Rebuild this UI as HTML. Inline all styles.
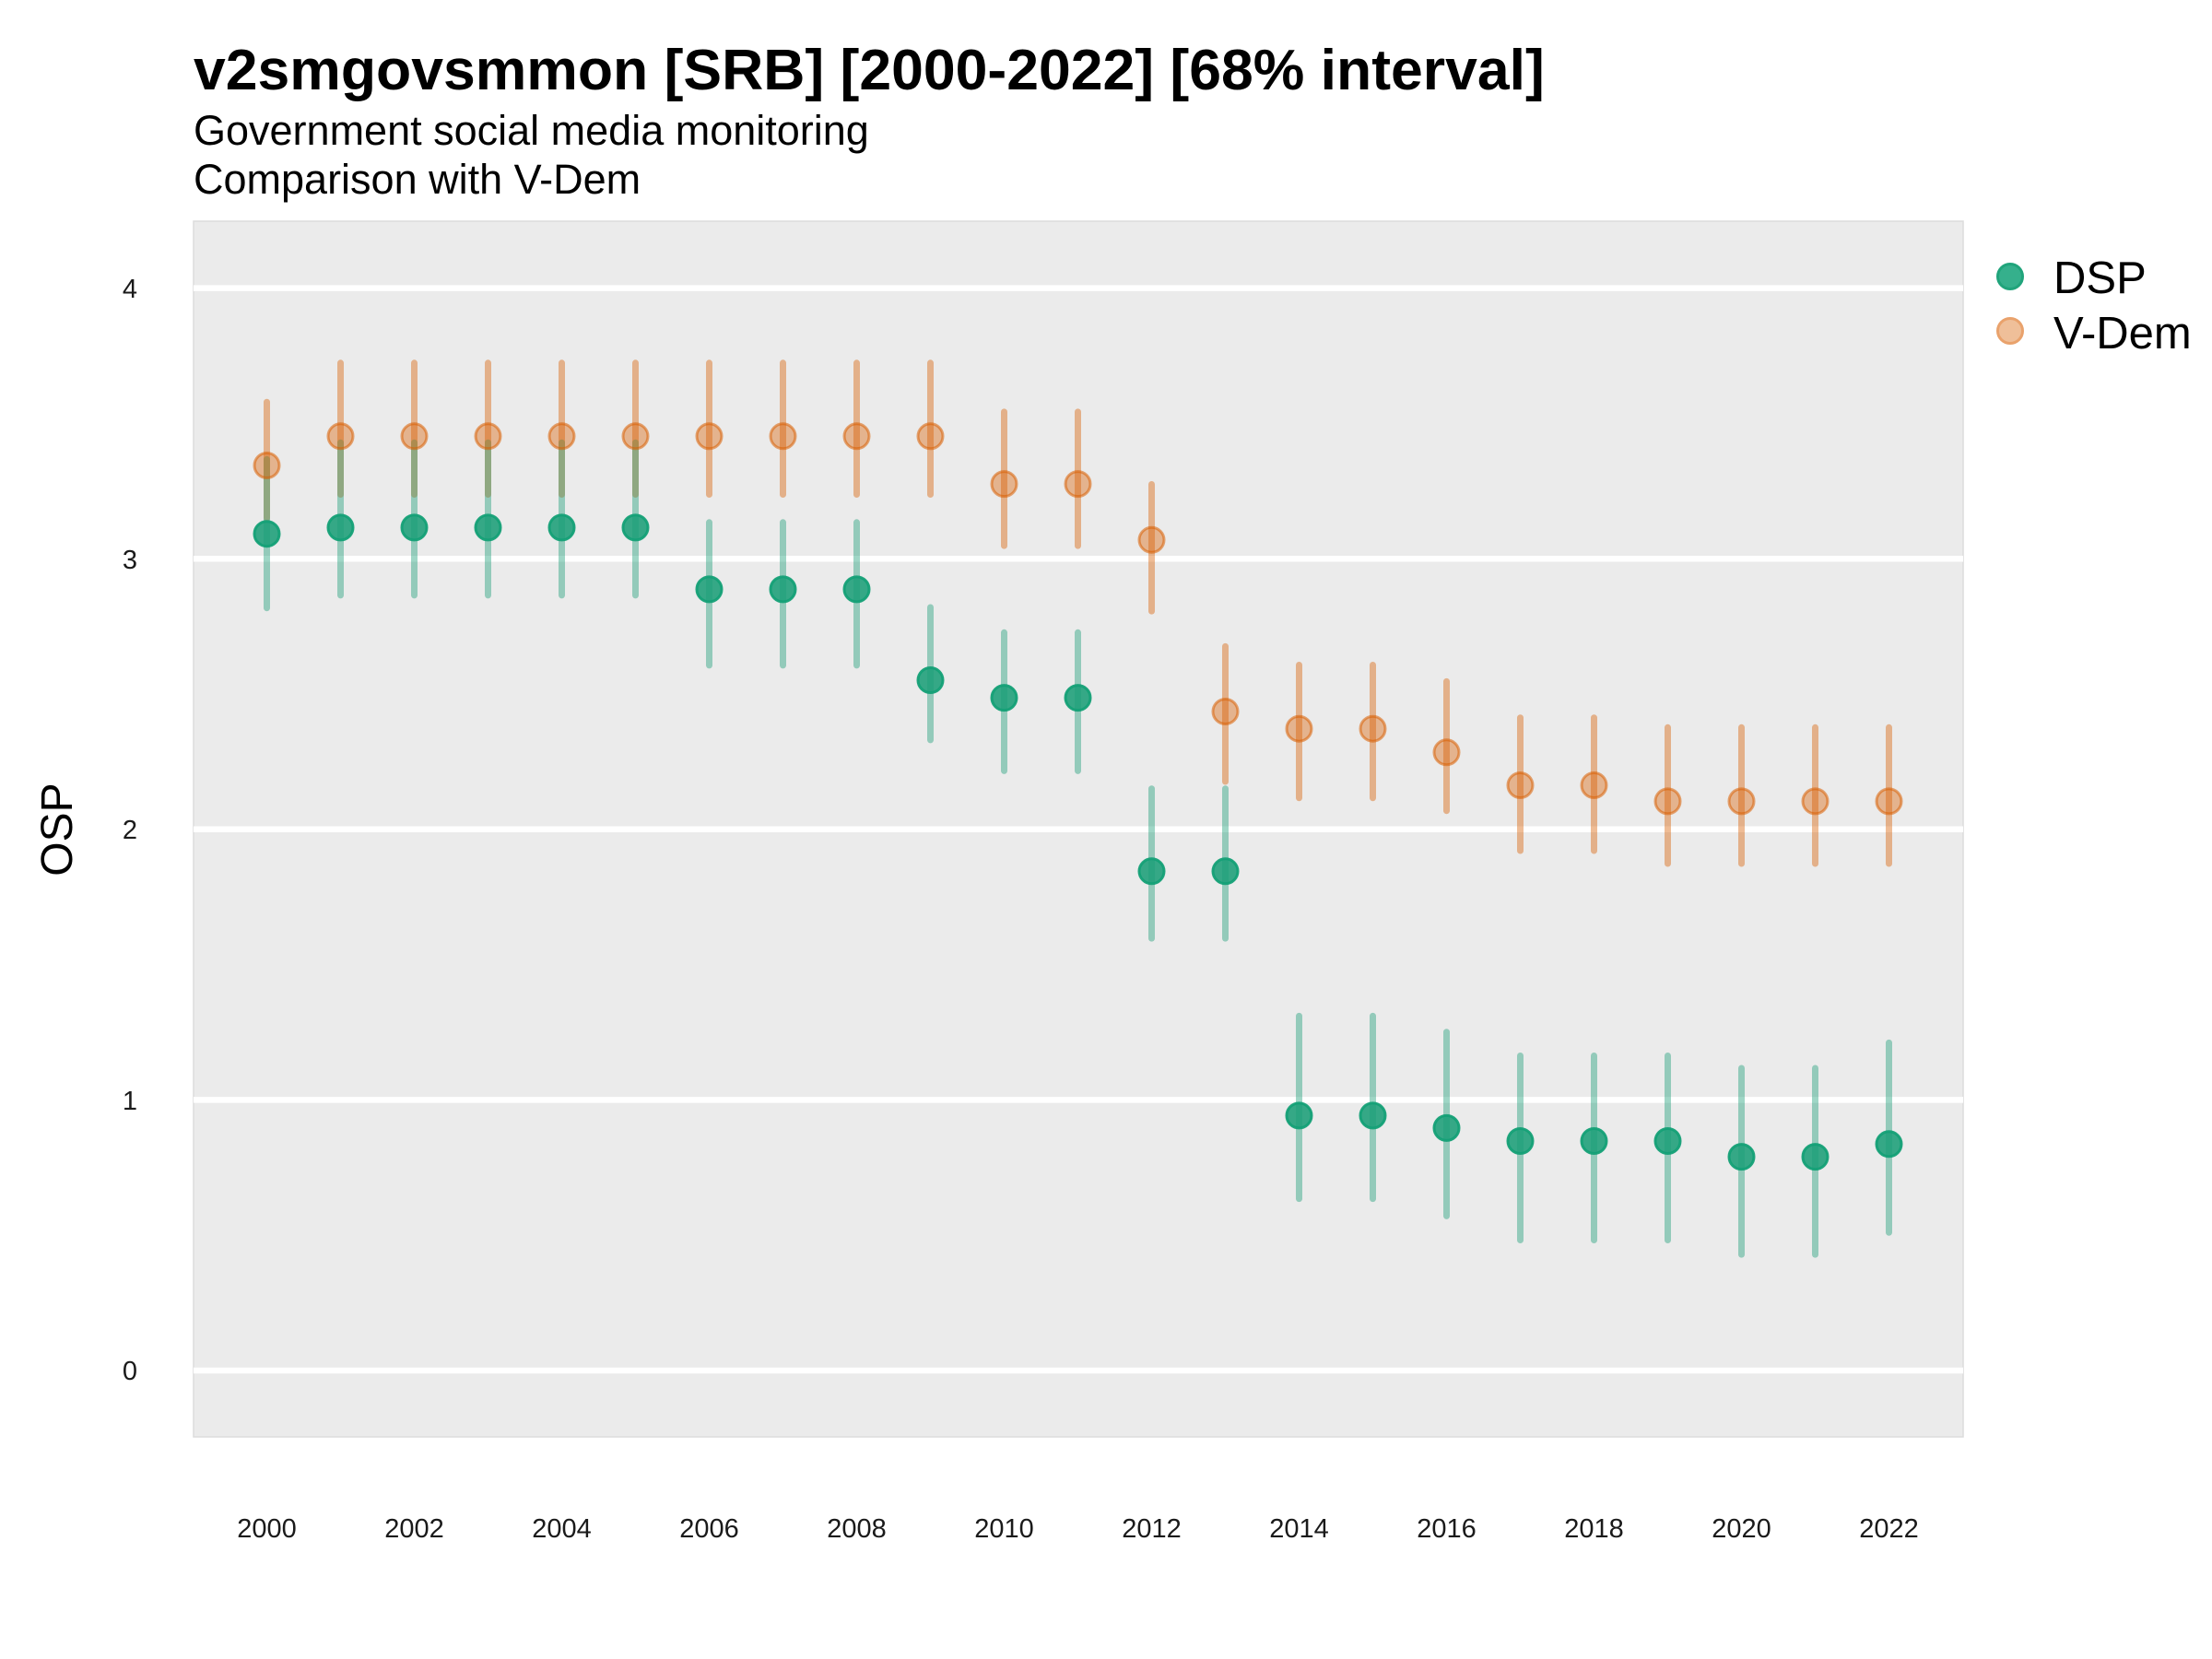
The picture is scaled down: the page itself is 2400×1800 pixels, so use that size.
<!DOCTYPE html>
<html><head><meta charset="utf-8"><style>
html,body{margin:0;padding:0;background:#fff;}
svg{display:block;}
text{font-family:"Liberation Sans",Arial,sans-serif;}
</style></head><body>
<svg width="2400" height="1800" viewBox="0 0 2400 1800" xmlns="http://www.w3.org/2000/svg">
<rect width="2400" height="1800" fill="#fff"/>
<text x="210" y="97" font-size="62.5" font-weight="bold" fill="#000">v2smgovsmmon [SRB] [2000-2022] [68% interval]</text>
<text x="210" y="157" font-size="45" fill="#000">Government social media monitoring</text>
<text x="210" y="210" font-size="45" fill="#000">Comparison with V-Dem</text>
<rect x="210" y="240" width="1920" height="1319" fill="#ebebeb" stroke="#dcdcdc" stroke-width="1.5"/>
<g stroke="#fff" stroke-width="6.5">
<line x1="210" x2="2130" y1="312.6" y2="312.6"/>
<line x1="210" x2="2130" y1="606.2" y2="606.2"/>
<line x1="210" x2="2130" y1="899.8" y2="899.8"/>
<line x1="210" x2="2130" y1="1193.4" y2="1193.4"/>
<line x1="210" x2="2130" y1="1487" y2="1487"/>
</g>
<g font-size="29" fill="#1a1a1a" text-anchor="middle">
<text x="141" y="323">4</text>
<text x="141" y="617">3</text>
<text x="141" y="910">2</text>
<text x="141" y="1204">1</text>
<text x="141" y="1497">0</text>
</g>
<g font-size="29" fill="#1a1a1a" text-anchor="middle">
<text x="289.5" y="1668">2000</text>
<text x="449.5" y="1668">2002</text>
<text x="609.5" y="1668">2004</text>
<text x="769.5" y="1668">2006</text>
<text x="929.5" y="1668">2008</text>
<text x="1089.5" y="1668">2010</text>
<text x="1249.5" y="1668">2012</text>
<text x="1409.5" y="1668">2014</text>
<text x="1569.5" y="1668">2016</text>
<text x="1729.5" y="1668">2018</text>
<text x="1889.5" y="1668">2020</text>
<text x="2049.5" y="1668">2022</text>
</g>
<text transform="translate(78,900) rotate(-90)" font-size="48" fill="#000" text-anchor="middle">OSP</text>
<!-- V-Dem bars -->
<g stroke="rgba(217,95,2,0.42)" stroke-width="7" stroke-linecap="round">
<line x1="289.5" x2="289.5" y1="436.2" y2="562"/>
<line x1="369.5" x2="369.5" y1="393.8" y2="536.5"/>
<line x1="449.5" x2="449.5" y1="393.8" y2="536.5"/>
<line x1="529.5" x2="529.5" y1="393.8" y2="536.5"/>
<line x1="609.5" x2="609.5" y1="393.8" y2="536.5"/>
<line x1="689.5" x2="689.5" y1="393.8" y2="536.5"/>
<line x1="769.5" x2="769.5" y1="393.8" y2="536.5"/>
<line x1="849.5" x2="849.5" y1="393.8" y2="536.5"/>
<line x1="929.5" x2="929.5" y1="393.8" y2="536.5"/>
<line x1="1009.5" x2="1009.5" y1="393.8" y2="536.5"/>
<line x1="1089.5" x2="1089.5" y1="446.9" y2="592.1"/>
<line x1="1169.5" x2="1169.5" y1="446.9" y2="592.1"/>
<line x1="1249.5" x2="1249.5" y1="525.5" y2="663.1"/>
<line x1="1329.5" x2="1329.5" y1="701.4" y2="848"/>
<line x1="1409.5" x2="1409.5" y1="721.5" y2="865.8"/>
<line x1="1489.5" x2="1489.5" y1="721.5" y2="865.8"/>
<line x1="1569.5" x2="1569.5" y1="739.4" y2="879.7"/>
<line x1="1649.5" x2="1649.5" y1="778.7" y2="923"/>
<line x1="1729.5" x2="1729.5" y1="778.7" y2="923"/>
<line x1="1809.5" x2="1809.5" y1="789.3" y2="937"/>
<line x1="1889.5" x2="1889.5" y1="789.3" y2="937"/>
<line x1="1969.5" x2="1969.5" y1="789.3" y2="937"/>
<line x1="2049.5" x2="2049.5" y1="789.3" y2="937"/>
</g>
<!-- DSP bars -->
<g stroke="rgba(27,158,119,0.42)" stroke-width="7" stroke-linecap="round">
<line x1="289.5" x2="289.5" y1="498.4" y2="659.7"/>
<line x1="369.5" x2="369.5" y1="480.2" y2="645.9"/>
<line x1="449.5" x2="449.5" y1="480.2" y2="645.9"/>
<line x1="529.5" x2="529.5" y1="480.2" y2="645.9"/>
<line x1="609.5" x2="609.5" y1="480.2" y2="645.9"/>
<line x1="689.5" x2="689.5" y1="480.2" y2="645.9"/>
<line x1="769.5" x2="769.5" y1="566.8" y2="721.9"/>
<line x1="849.5" x2="849.5" y1="566.8" y2="721.9"/>
<line x1="929.5" x2="929.5" y1="566.8" y2="721.9"/>
<line x1="1009.5" x2="1009.5" y1="659" y2="802.9"/>
<line x1="1089.5" x2="1089.5" y1="686.3" y2="836.4"/>
<line x1="1169.5" x2="1169.5" y1="686.3" y2="836.4"/>
<line x1="1249.5" x2="1249.5" y1="855.7" y2="1018.1"/>
<line x1="1329.5" x2="1329.5" y1="855.7" y2="1018.1"/>
<line x1="1409.5" x2="1409.5" y1="1102.4" y2="1300.6"/>
<line x1="1489.5" x2="1489.5" y1="1102.4" y2="1300.6"/>
<line x1="1569.5" x2="1569.5" y1="1119.7" y2="1319.4"/>
<line x1="1649.5" x2="1649.5" y1="1145.5" y2="1345.5"/>
<line x1="1729.5" x2="1729.5" y1="1145.5" y2="1345.5"/>
<line x1="1809.5" x2="1809.5" y1="1145.5" y2="1345.5"/>
<line x1="1889.5" x2="1889.5" y1="1159" y2="1361.1"/>
<line x1="1969.5" x2="1969.5" y1="1159" y2="1361.1"/>
<line x1="2049.5" x2="2049.5" y1="1131.4" y2="1337.3"/>
</g>
<!-- DSP points -->
<g fill="rgba(27,158,119,0.88)" stroke="rgba(20,160,118,0.95)" stroke-width="3">
<circle cx="289.5" cy="579.2" r="13.5"/>
<circle cx="369.5" cy="572.4" r="13.5"/>
<circle cx="449.5" cy="572.4" r="13.5"/>
<circle cx="529.5" cy="572.4" r="13.5"/>
<circle cx="609.5" cy="572.4" r="13.5"/>
<circle cx="689.5" cy="572.4" r="13.5"/>
<circle cx="769.5" cy="639.4" r="13.5"/>
<circle cx="849.5" cy="639.4" r="13.5"/>
<circle cx="929.5" cy="639.4" r="13.5"/>
<circle cx="1009.5" cy="738" r="13.5"/>
<circle cx="1089.5" cy="757.1" r="13.5"/>
<circle cx="1169.5" cy="757.1" r="13.5"/>
<circle cx="1249.5" cy="945.3" r="13.5"/>
<circle cx="1329.5" cy="945.3" r="13.5"/>
<circle cx="1409.5" cy="1210.4" r="13.5"/>
<circle cx="1489.5" cy="1210.4" r="13.5"/>
<circle cx="1569.5" cy="1223.9" r="13.5"/>
<circle cx="1649.5" cy="1238" r="13.5"/>
<circle cx="1729.5" cy="1238" r="13.5"/>
<circle cx="1809.5" cy="1238" r="13.5"/>
<circle cx="1889.5" cy="1255.1" r="13.5"/>
<circle cx="1969.5" cy="1255.1" r="13.5"/>
<circle cx="2049.5" cy="1241.3" r="13.5"/>
</g>
<!-- V-Dem points -->
<g fill="rgba(217,95,2,0.4)" stroke="rgba(217,95,2,0.55)" stroke-width="3">
<circle cx="289.5" cy="505" r="13.5"/>
<circle cx="369.5" cy="473.3" r="13.5"/>
<circle cx="449.5" cy="473.3" r="13.5"/>
<circle cx="529.5" cy="473.3" r="13.5"/>
<circle cx="609.5" cy="473.3" r="13.5"/>
<circle cx="689.5" cy="473.3" r="13.5"/>
<circle cx="769.5" cy="473.3" r="13.5"/>
<circle cx="849.5" cy="473.3" r="13.5"/>
<circle cx="929.5" cy="473.3" r="13.5"/>
<circle cx="1009.5" cy="473.3" r="13.5"/>
<circle cx="1089.5" cy="525.1" r="13.5"/>
<circle cx="1169.5" cy="525.1" r="13.5"/>
<circle cx="1249.5" cy="585.8" r="13.5"/>
<circle cx="1329.5" cy="772" r="13.5"/>
<circle cx="1409.5" cy="790.7" r="13.5"/>
<circle cx="1489.5" cy="790.7" r="13.5"/>
<circle cx="1569.5" cy="816.3" r="13.5"/>
<circle cx="1649.5" cy="852" r="13.5"/>
<circle cx="1729.5" cy="852" r="13.5"/>
<circle cx="1809.5" cy="869.4" r="13.5"/>
<circle cx="1889.5" cy="869.4" r="13.5"/>
<circle cx="1969.5" cy="869.4" r="13.5"/>
<circle cx="2049.5" cy="869.4" r="13.5"/>
</g>
<!-- Legend -->
<circle cx="2181" cy="300" r="13.5" fill="#35b08c" stroke="#20a47b" stroke-width="3"/>
<circle cx="2181" cy="359" r="13.5" fill="#efbf99" stroke="#e9a26c" stroke-width="3"/>
<text x="2228" y="318" font-size="49" fill="#000">DSP</text>
<text x="2228" y="378" font-size="49" fill="#000">V-Dem</text>
</svg>
</body></html>
